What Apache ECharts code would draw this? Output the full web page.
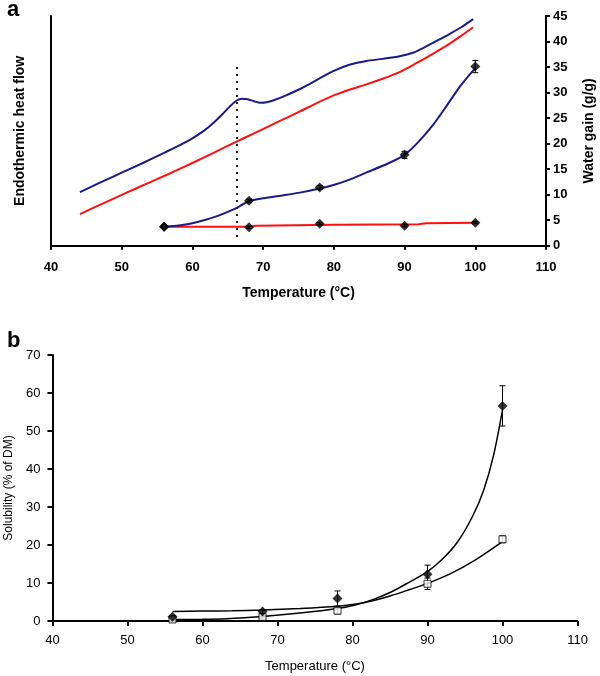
<!DOCTYPE html>
<html>
<head>
<meta charset="utf-8">
<script src="https://cdn.jsdelivr.net/npm/echarts@6/dist/echarts.min.js"></script>
<style>
html,body{margin:0;padding:0;background:#fff;}
#chart{width:600px;height:676px;}
</style>
</head>
<body>
<div id="chart"></div>
<script>
// ---------- Panel a data ----------
const tempTicksA = [40, 50, 60, 70, 80, 90, 100, 110];
// DSC thermogram curves (arbitrary heat-flow units, drawn on a 0-45 scale)
const dscBlue = [[44.1,10.5],[47,12.4],[50,14.3],[53,16.2],[55.4,17.8],[57.5,19.2],[59.7,20.8],[61.5,22.4],[63,24.1],[64.2,25.7],[65.3,27.3],[66.2,28.4],[67,28.8],[67.8,28.7],[68.7,28.3],[69.6,28.0],[70.5,28.1],[71.5,28.5],[73,29.3],[75.2,30.7],[77.5,32.4],[79.9,34.2],[82.3,35.5],[84.6,36.2],[86.9,36.6],[89.3,37.1],[91.2,37.8],[93,39.0],[94.8,40.3],[96.4,41.5],[98,42.8],[99.7,44.4]];
const dscRed = [[44.1,6.2],[48,8.7],[52,11.2],[56.4,13.9],[60,16.2],[63,18.2],[65.8,20.1],[69,22.2],[72,24.2],[75.2,26.3],[77.5,27.9],[79.9,29.4],[82.3,30.6],[84.6,31.6],[86.9,32.7],[89.3,34.0],[91.6,35.7],[94,37.6],[96.4,39.6],[98,41.1],[99.7,42.8]];
// Water gain (g/g)
const waterT = [56, 68, 78, 90, 100];
const waterBlue = [3.7, 8.8, 11.4, 17.8, 35.1];
const waterBlueErr = [0.2, 0.3, 0.4, 0.7, 1.2];
const waterRed = [3.7, 3.6, 4.3, 3.9, 4.5];
const waterRedErr = [0.2, 0.2, 0.2, 0.2, 0.2];
const waterBlueFit = [[56,3.7],[58.8,4.1],[61.1,4.8],[63.5,5.8],[65.8,7.1],[68,8.7],[70,9.3],[72.9,9.9],[75.2,10.4],[78,11.2],[80.2,12.0],[82.5,13.1],[84.7,14.4],[87.5,16.0],[90,17.8],[92,20.4],[94,23.6],[96,27.5],[98,31.5],[100,34.8]];
const waterRedFit = [[56,3.7],[67.5,3.7],[69,3.9],[80,4.1],[92,4.2],[93,4.4],[100,4.5]];
const glassLine = [[66.3,1.7],[66.3,36.0]];

// ---------- Panel b data ----------
const tempTicksB = [40, 50, 60, 70, 80, 90, 100, 110];
const solT = [56, 68, 78, 90, 100];
const solFilled = [1.1, 2.5, 5.9, 12.3, 56.6];
const solFilledErr = [0.3, 0.5, 2.0, 2.4, 5.3];
const solOpen = [0.4, 1.1, 2.7, 9.8, 21.5];
const solOpenErr = [0.2, 0.4, 0.8, 1.5, 0.9];
const fitFilled = [[56,0.4],[60,0.45],[63.2,0.6],[68,1.2],[73,2.1],[78,3.3],[80.5,4.3],[82.8,5.7],[85,7.5],[87.2,9.8],[90,13.0],[92,16.3],[94,20.8],[96,27.5],[97.5,34.5],[98.8,43.5],[100,55.5]];
const fitOpen = [[56,2.5],[60,2.6],[64,2.7],[68,2.9],[73,3.3],[78,3.9],[80.5,4.5],[82.8,5.4],[85,6.6],[87.2,8.0],[90,9.9],[93,12.4],[96.4,16.1],[100,20.9]];

const FONT = "'Liberation Sans', Arial, sans-serif";

function errBar(xAxisIndex, yAxisIndex, xs, ys, es, color) {
  return {
    type: 'custom', xAxisIndex, yAxisIndex, silent: true, z: 3,
    data: xs.map((x, i) => [x, ys[i], es[i]]),
    renderItem: function (params, api) {
      const x = api.value(0), y = api.value(1), e = api.value(2);
      const t = api.coord([x, y + e]);
      const b = api.coord([x, y - e]);
      const w = 3;
      const st = { stroke: color, lineWidth: 1 };
      return {
        type: 'group', children: [
          { type: 'line', shape: { x1: t[0], y1: t[1], x2: b[0], y2: b[1] }, style: st },
          { type: 'line', shape: { x1: t[0] - w, y1: t[1], x2: t[0] + w, y2: t[1] }, style: st },
          { type: 'line', shape: { x1: b[0] - w, y1: b[1], x2: b[0] + w, y2: b[1] }, style: st }
        ]
      };
    }
  };
}

const chart = echarts.init(document.getElementById('chart'), null, { renderer: 'canvas' });
const axisLineA = { show: true, lineStyle: { color: '#000', width: 2 } };
const smoothLine = (xi, yi, data, color, width) => ({
  type: 'line', xAxisIndex: xi, yAxisIndex: yi, data, smooth: 0.25,
  showSymbol: false, lineStyle: { color, width }, z: 2
});
const option = {
  animation: false,
  backgroundColor: '#fff',
  title: [
    { text: 'a', left: 2, top: -6, textStyle: { fontFamily: FONT, fontWeight: 'bold', fontSize: 22, color: '#000' } },
    { text: 'b', left: 2, top: 325, textStyle: { fontFamily: FONT, fontWeight: 'bold', fontSize: 22, color: '#000' } }
  ],
  grid: [
    { left: 51, right: 54, top: 16, height: 229.7, containLabel: false, outerBoundsMode: 'none' },
    { left: 52.5, right: 22.5, top: 355, height: 266, containLabel: false, outerBoundsMode: 'none' }
  ],
  xAxis: [
    {
      gridIndex: 0, type: 'value', min: 40, max: 110, interval: 10,
      name: 'Temperature (°C)', nameLocation: 'middle', nameGap: 40,
      nameTextStyle: { fontFamily: FONT, fontWeight: 'bold', fontSize: 14, color: '#000' },
      axisLine: axisLineA,
      axisTick: { show: true, length: 4, lineStyle: { color: '#000', width: 2 } },
      axisLabel: { fontFamily: FONT, fontWeight: 'bold', fontSize: 13, color: '#000', margin: 15,
        formatter: v => tempTicksA.includes(v) ? String(v) : '' },
      splitLine: { show: false }
    },
    {
      gridIndex: 1, type: 'value', min: 40, max: 110, interval: 10,
      name: 'Temperature (°C)', nameLocation: 'middle', nameGap: 39,
      nameTextStyle: { fontFamily: FONT, fontSize: 13, color: '#000' },
      axisLine: axisLineA,
      axisTick: { show: true, length: 5, lineStyle: { color: '#000', width: 2 } },
      axisLabel: { fontFamily: FONT, fontSize: 13, color: '#000', margin: 13,
        formatter: v => tempTicksB.includes(v) ? String(v) : '' },
      splitLine: { show: false }
    }
  ],
  yAxis: [
    {
      gridIndex: 0, type: 'value', min: 0, max: 45, position: 'left',
      name: 'Endothermic heat flow', nameLocation: 'middle', nameGap: 24, nameRotate: 90,
      nameTextStyle: { fontFamily: FONT, fontWeight: 'bold', fontSize: 14, color: '#000' },
      axisLine: axisLineA, axisTick: { show: false }, axisLabel: { show: false }, splitLine: { show: false }
    },
    {
      gridIndex: 0, type: 'value', min: 0, max: 45, interval: 5, position: 'right',
      name: 'Water gain (g/g)', nameLocation: 'middle', nameGap: 36, nameRotate: 90,
      nameTextStyle: { fontFamily: FONT, fontWeight: 'bold', fontSize: 14, color: '#000' },
      axisLine: axisLineA,
      axisTick: { show: true, length: 4, lineStyle: { color: '#000', width: 2 } },
      axisLabel: { fontFamily: FONT, fontWeight: 'bold', fontSize: 13, color: '#000', margin: 7 },
      splitLine: { show: false }
    },
    {
      gridIndex: 1, type: 'value', min: 0, max: 70, interval: 10, position: 'left',
      name: 'Solubility (% of DM)', nameLocation: 'middle', nameGap: 38, nameRotate: 90,
      nameTextStyle: { fontFamily: FONT, fontSize: 12, color: '#000' },
      axisLine: axisLineA,
      axisTick: { show: true, length: 5, lineStyle: { color: '#000', width: 2 } },
      axisLabel: { fontFamily: FONT, fontSize: 13, color: '#000', margin: 12 },
      splitLine: { show: false }
    }
  ],
  series: [
    smoothLine(0, 0, dscBlue, '#1a1a8a', 2),
    smoothLine(0, 0, dscRed, '#ff1010', 2),
    { type: 'line', xAxisIndex: 0, yAxisIndex: 1, data: glassLine, showSymbol: false,
      lineStyle: { color: '#222', width: 2, type: [2, 5] }, z: 1 },
    { type: 'line', xAxisIndex: 0, yAxisIndex: 1, data: waterRedFit, showSymbol: false,
      lineStyle: { color: '#ff1010', width: 2 }, z: 2 },
    smoothLine(0, 1, waterBlueFit, '#1a1a8a', 2),
    errBar(0, 1, waterT, waterBlue, waterBlueErr, '#000'),
    errBar(0, 1, waterT, waterRed, waterRedErr, '#000'),
    { type: 'scatter', xAxisIndex: 0, yAxisIndex: 1, data: waterT.map((t, i) => [t, waterBlue[i]]),
      symbol: 'diamond', symbolSize: 10, itemStyle: { color: '#000' }, z: 4 },
    { type: 'scatter', xAxisIndex: 0, yAxisIndex: 1, data: waterT.map((t, i) => [t, waterRed[i]]),
      symbol: 'diamond', symbolSize: 10, itemStyle: { color: '#000' }, z: 4 },

    smoothLine(1, 2, fitFilled, '#000', 1.5),
    smoothLine(1, 2, fitOpen, '#000', 1.5),
    errBar(1, 2, solT, solFilled, solFilledErr, '#000'),
    errBar(1, 2, solT, solOpen, solOpenErr, '#000'),
    { type: 'scatter', xAxisIndex: 1, yAxisIndex: 2, data: solT.map((t, i) => [t, solOpen[i]]),
      symbol: 'rect', symbolSize: 7, itemStyle: { color: '#fff', borderColor: '#000', borderWidth: 1 }, z: 4 },
    { type: 'scatter', xAxisIndex: 1, yAxisIndex: 2, data: solT.map((t, i) => [t, solFilled[i]]),
      symbol: 'diamond', symbolSize: 10, itemStyle: { color: '#000' }, z: 5 }
  ]
};
chart.setOption(option);
</script>
</body>
</html>
